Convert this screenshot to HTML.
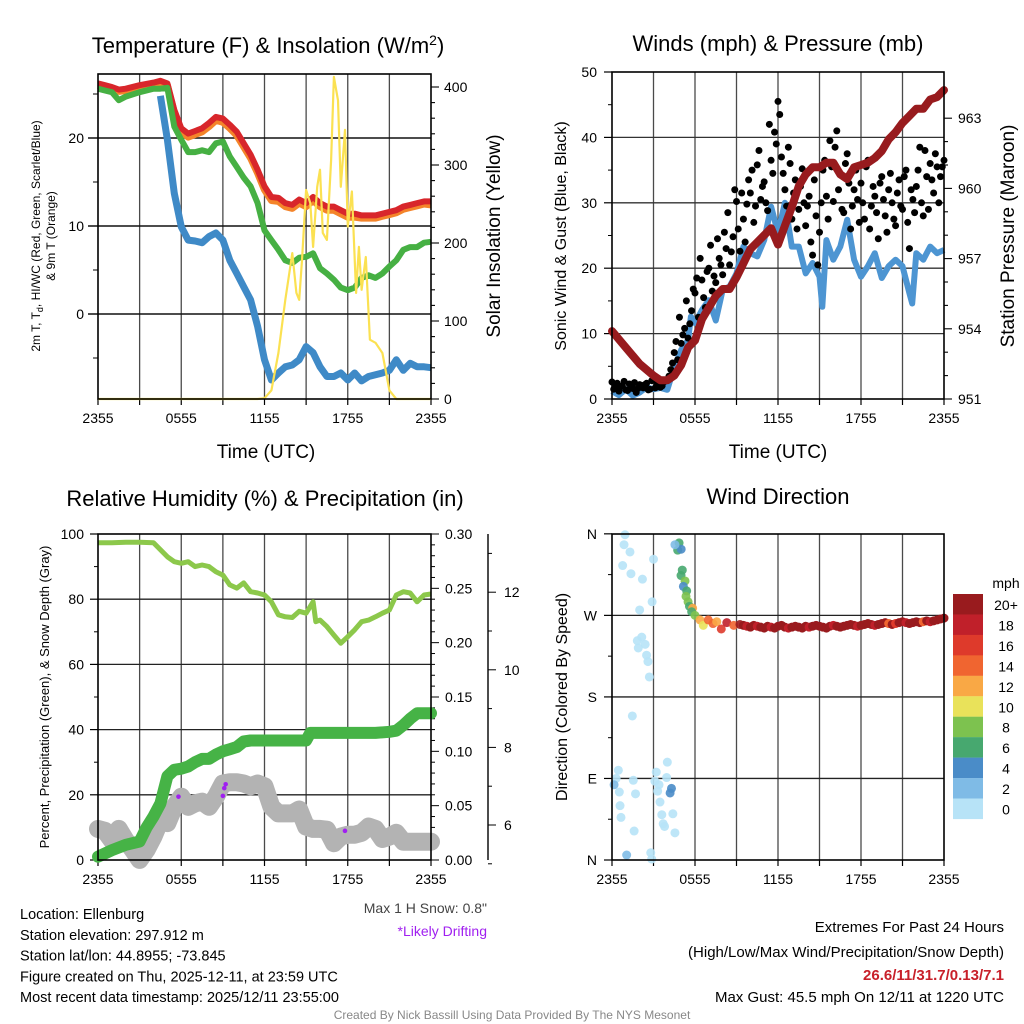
<!DOCTYPE html>
<html><head><meta charset="utf-8"><style>
html,body{margin:0;padding:0;background:#fff;}
svg{display:block;font-family:"Liberation Sans",sans-serif;}
</style></head><body>
<svg id="fig" width="1024" height="1024" viewBox="0 0 1024 1024" xmlns="http://www.w3.org/2000/svg"></svg>
<script>
// ---------- DATA ----------
const tempTimes = [0,0.5,1,1.5,2,3,4,4.5,5,5.5,6,6.5,7,7.5,8,8.5,9,9.5,10,10.5,11,11.5,12,12.5,13,13.5,14,14.5,15,15.5,16,16.5,17,17.5,18,18.5,19,19.5,20,20.5,21,21.5,22,22.5,23,23.5,24];
const tempRed = [26.2,26,25.8,25.5,25.6,26,26.3,26.5,26.2,23.2,21.1,20.5,20.8,21.1,21.7,22.4,22.2,21.5,20.7,19.4,18.1,16.4,14.5,13.3,13.2,12.6,12.4,13,12.6,13.3,12.6,12.2,12.2,11.8,11.4,11.4,11.2,11.2,11.2,11.4,11.6,11.8,12.2,12.4,12.6,12.8,12.8];
const tempOrange = [26.0,25.8,25.6,25.3,25.4,25.8,26.1,26.3,26.0,22.9,20.7,20.1,20.4,20.7,21.3,22.0,21.8,21.1,20.3,19.0,17.7,16.0,14.1,12.9,12.8,12.2,12.0,12.6,12.2,12.9,12.2,11.8,11.8,11.4,11.0,11.0,10.9,10.9,10.9,11.1,11.3,11.5,11.9,12.1,12.3,12.5,12.4];
const dewGreen = [25.6,25.4,25.2,24.3,24.7,25.2,25.6,25.6,25.7,21.3,19.8,18.4,18.4,18.6,18.4,19.4,19.6,17.9,16.7,15.5,14.5,12.6,9.5,8.4,7.3,6.1,5.8,6.4,6.5,6.9,5.2,4.6,3.9,3.0,2.7,3.0,4.1,4.4,4.1,4.6,5.4,6.1,7.3,7.6,7.6,8.1,8.2];
const wcBlue = [null,null,null,null,null,null,null,24.8,19.8,13.7,9.9,8.4,8.3,8.1,8.8,9.2,8.4,6.1,4.6,3.1,1.6,-1.4,-5.2,-7.5,-6.7,-6.0,-5.8,-5.2,-3.7,-4.4,-6.0,-7.1,-7.1,-6.7,-7.5,-6.7,-7.6,-7.1,-6.9,-6.7,-6.4,-5.2,-6.4,-5.6,-6.0,-6.0,-6.1];
const solarTimes = [0,11.5,12,12.5,13,13.5,14,14.3,14.5,14.7,15,15.3,15.5,15.8,16,16.2,16.5,16.8,17,17.3,17.5,17.8,18,18.3,18.6,18.8,19,19.3,19.6,20,20.5,21,21.5,24];
const solarVals = [0,0,1,11,59,127,187,136,127,178,268,251,195,272,294,213,204,306,413,383,272,345,221,266,136,195,140,182,76,72,59,11,0,0];
const tempTicks = [0,10,20];
const solarTicks = [0,100,200,300,400];
const timeTickLabels = ["2355","0555","1155","1755","2355"];

const presTimes = [0,1,2,3,3.5,4,4.5,5,5.5,6,6.5,7,7.5,8,8.5,9,9.5,10,10.5,11,11.5,12,12.5,13,13.5,14,14.5,15,15.5,16,16.5,17,17.5,18,18.5,19,19.5,20,20.5,21,21.5,22,22.5,23,23.5,24];
const presVals = [953.9,953.2,952.5,952.0,951.8,951.8,952.0,952.45,953.2,953.5,954.4,954.9,955.4,955.7,955.7,956.2,956.8,957.4,957.7,958.0,958.3,957.6,958.4,959.2,960.1,960.6,960.9,960.9,961.1,961.1,960.6,960.4,960.9,961.0,961.1,961.3,961.6,962.1,962.4,962.8,963.1,963.4,963.4,963.8,963.9,964.2];
const windTimes = [0,0.5,1,1.5,2,2.5,3,3.5,4,4.5,5,5.5,5.7,6,6.5,7,7.5,8,8.5,9,9.5,10,10.5,11,11.5,12,12.5,13,13.5,14,14.5,15,15.2,15.5,16,16.5,17,17.5,18,18.5,19,19.5,20,20.5,21,21.5,21.7,22,22.5,23,23.5,24];
const windVals = [1.2,0.6,1.5,0.5,1.0,1.8,1.5,1.7,1.4,4.9,7.5,9.0,12.6,11.6,13.6,15.1,12.0,16.7,17.2,19.2,23.3,22.3,21.8,24.3,29.4,25.4,30.0,23.3,23.3,19.2,20.8,18.7,14.1,24.3,21.3,23.3,27.4,21.3,18.7,20.3,22.3,18.5,20.3,21.3,20.3,16.2,14.6,22.3,21.3,23.3,22.3,22.8];
const gustVals = [2.6,1.8,1.2,2.0,1.4,2.3,1.6,1.0,2.2,1.7,2.4,1.5,2.9,2.1,1.8,2.6,
 2.9,4.5,7.1,6.0,8.5,10.8,9.3,13.5,
 16.2,12.5,18.2,14.0,20.0,16.5,17.8,21.5,
 19.0,23.0,20.5,24.8,30.2,22.6,27.5,29.8,
 31.5,27.0,35.8,30.5,33.2,28.8,36.5,40.8,
 45.5,37.0,32.0,38.5,27.5,33.5,29.0,35.2,
 26.5,31.0,22.0,28.0,25.5,35.0,31.0,39.5,
 30.2,41.0,34.5,28.5,37.5,26.0,32.0,30.5,
 33.0,27.5,36.5,29.5,31.0,24.5,34.0,28.0,
 32.0,30.0,26.5,33.5,29.0,35.0,23.0,30.5,
 32.5,38.5,28.0,34.0,36.0,31.5,35.5,34.0,36.5];
const gustVals2 = [1.5,2.4,1.9,2.7,1.3,2.0,2.5,1.6,1.9,2.2,1.4,2.8,1.7,2.3,2.0,2.9,
 3.5,5.5,8.8,12.5,9.8,15.0,11.5,16.8,
 18.5,21.5,15.5,19.5,23.5,18.8,24.5,20.5,
 25.5,28.5,22.5,32.0,26.0,31.5,24.0,33.5,
 35.0,29.5,38.0,32.5,30.0,42.0,34.5,39.0,
 43.5,34.5,29.5,36.0,31.5,26.0,32.5,30.0,
 29.5,24.0,33.5,20.5,30.0,36.5,27.5,35.5,
 38.5,32.0,29.0,36.0,33.0,29.5,35.0,27.0,
 30.0,35.5,26.0,32.5,28.5,33.0,30.5,25.5,
 34.5,27.5,31.5,29.5,34.0,27.0,32.0,28.5,
 35.0,30.0,38.0,29.0,33.5,37.5,30.0,35.5];
const windTicks = [0,10,20,30,40,50];
const presTicks = [951,954,957,960,963];

const rhTimes = [0,1,2,3,4,5,5.5,6,6.5,7,7.5,8,8.5,9,9.5,10,10.5,11,11.5,12,12.5,13,13.5,14,14.5,15,15.5,15.7,16,16.5,17,17.5,18,18.5,19,19.5,20,20.5,21,21.5,22,22.5,23,23.5,24];
const rhVals = [97.3,97.3,97.5,97.5,97.3,93,91.5,91,91.5,90,90.5,90,88.4,87.4,84.4,83.4,85,82.3,81.9,81.3,79.2,75.2,74.6,74.4,76.3,75.7,79.2,73.1,73.6,71.6,69,66.5,68.5,70.6,73.1,73.6,74.6,75.7,76.7,81.3,82.3,81.9,79.2,81.3,81.6];
const precipTimes = [0,1,2,3,3.5,4,4.5,5,5.5,6,6.5,7,7.5,8,8.5,9,9.5,10,10.5,11,15,15.3,20,21,21.5,22,22.5,23,23.5,24];
const precipVals = [0.003,0.009,0.014,0.017,0.030,0.040,0.052,0.077,0.083,0.084,0.086,0.090,0.093,0.093,0.097,0.100,0.102,0.104,0.109,0.110,0.110,0.117,0.117,0.118,0.119,0.124,0.130,0.135,0.135,0.135];
const snowTimes = [0,0.5,1,1.5,2,2.5,3,3.5,4,4.5,5,5.5,6,6.5,7,7.5,8,8.5,9,9.5,10,10.5,11,11.5,12,12.5,13,13.5,14,14.5,15,15.5,16,16.5,17,17.5,18,18.5,19,19.5,20,20.5,21,21.5,22,22.5,23,24];
const snowVals = [5.9,5.85,5.6,5.9,5.6,5.36,5.1,5.36,5.7,6.13,6.05,6.47,6.73,6.47,6.56,6.6,6.47,6.73,7.07,7.1,7.1,7.07,7.0,7.07,7.0,6.47,6.3,6.3,6.3,6.4,5.96,5.9,5.9,5.88,5.53,5.7,5.75,5.75,5.8,5.96,5.9,5.64,5.7,5.8,5.57,5.57,5.57,5.57];
const driftTimes = [5.8,9.0,9.1,9.2,17.8];
const driftVals = [6.73,6.75,6.95,7.05,5.85];
const rhTicks = [0,20,40,60,80,100];
const precipTicks = [0,0.05,0.10,0.15,0.20,0.25,0.30];
const precipTickLabels = ["0.00","0.05","0.10","0.15","0.20","0.25","0.30"];
const snowTicks = [6,8,10,12];

const dirTimes = [0.94,0.87,1.3,3.0,0.77,1.37,2.2,2.9,2.0,2.15,1.83,2.4,1.9,2.5,2.6,2.7,1.47,0.46,0.3,0.15,1.54,0.53,1.7,0.58,0.65,1.6,1.06,2.8,2.87,4.0,3.2,3.95,3.1,3.4,4.3,4.2,3.3,3.47,3.6,4.4,3.7,3.8,4.55,
 4.85,4.75,5.0,4.55,5.08,4.99,5.28,5.16,5.4,5.35,5.5,5.6,5.83,5.76,6.0,6.36,6.6,6.96,7.3,7.57,7.9,8.3,8.8,9.25];
const dirVals = [359,348,340,332,325,316,310,285,276,246,242,238,234,226,219,202,159,99,90,83,88,75,73,60,47,32,5.5,8,1,108,97,91,87,83,79,74,76,64,50,51,40,37,30,
 350,342,343,348,320,314,308,302,297,291,285,280,278,274,270,265,259,265,261,263,255,262,259,260];
const dirSpeeds = [0,0,0,0,0,0,0,0,0,0,0,0,0,0,0,0,0,0,0,2,0,0,0,0,0,0,2,0,0,0,0,0,0,0,3,3,0,0,0,0,0,0,0,
 6,6,4,1,6,6,8,4,6,8,8,6,12,6,8,12,10,14,14,12,16,18,14,20];
const dirTimes2 = [9.5,9.75,10,10.25,10.5,10.75,11,11.25,11.5,11.75,12,12.25,12.5,12.75,13,13.25,13.5,13.75,14,14.25,14.5,14.75,15,15.25,15.5,15.75,16,16.25,16.5,16.75,17,17.25,17.5,17.75,18,18.25,18.5,18.75,19,19.25,19.5,19.75,20,20.25,20.5,20.75,21,21.25,21.5,21.75,22,22.25,22.5,22.75,23,23.25,23.5,23.75,24];
const dirVals2 = [259,258,257,259,258,257,256,258,257,256,258,259,257,256,257,258,257,256,258,257,258,259,258,257,256,258,259,258,257,258,259,260,259,258,259,260,261,260,259,260,261,262,261,260,261,262,263,262,261,262,263,262,263,264,263,264,265,266,267];
const dirSpeeds2 = [20,18,20,20,18,20,20,20,18,20,20,20,20,18,20,20,20,20,20,18,20,20,20,20,20,20,18,20,20,20,20,20,20,18,20,20,20,20,18,20,20,20,14,20,16,20,20,18,20,20,20,20,14,20,18,20,20,20,20];
const cbLabels = ["20+","18","16","14","12","10","8","6","4","2","0"];
const cbColors = ["#991b1e","#c0202a","#de3a2b","#f06530","#f9a845","#e9e25a","#7dc24f","#47a86f","#4a8cc8","#7fbbe6","#b7e3f7"];
const dirTickLabels = ["N","E","S","W","N"];

// ---------- HELPERS ----------
const NS = "http://www.w3.org/2000/svg";
const svg = document.getElementById("fig");
function mk(tag, attrs, parent){
  const el = document.createElementNS(NS, tag);
  for (const k in attrs) el.setAttribute(k, attrs[k]);
  (parent||svg).appendChild(el);
  return el;
}
function txt(str, attrs, parent){
  const el = mk("text", attrs, parent);
  el.textContent = str;
  return el;
}
function pathFrom(xs, ys, fx, fy){
  let d = "", pen = false;
  for (let i=0;i<xs.length;i++){
    if (ys[i]===null){ pen=false; continue; }
    d += (pen?"L":"M") + fx(xs[i]).toFixed(1) + "," + fy(ys[i]).toFixed(1);
    pen = true;
  }
  return d;
}
function speedColor(s){
  let idx = 10 - Math.min(10, Math.round(s/2));
  return cbColors[idx];
}
function frame(p, name){
  const g = mk("g", {});
  
  
  for (let h=3; h<24; h+=3){
    const x = p.sx(h);
    const l = mk("line",{x1:x,y1:p.y0,x2:x,y2:p.y1,stroke:"#4a4a4a","stroke-width":1.3},g);
    
    
  }
  for (let h=0; h<=24; h+=3){
    const x = p.sx(h);
    mk("line",{x1:x,y1:p.y1,x2:x,y2:p.y1+6,stroke:"#000","stroke-width":1.2},g);
  }
  for (let i=0;i<timeTickLabels.length;i++){
    const t = txt(timeTickLabels[i],{x:p.sx(i*6),y:p.y1+24,"font-size":14,"text-anchor":"middle"},g);
    
    
  }
  return g;
}
function border(p){
  const r = mk("rect",{x:p.x0,y:p.y0,width:p.x1-p.x0,height:p.y1-p.y0,fill:"none",stroke:"#000","stroke-width":1.6});
  
  
}

// ---------- PANEL 1 ----------
const p1 = {x0:98,x1:431,y0:74,y1:399};
p1.sx = h => p1.x0 + h*(p1.x1-p1.x0)/24;
const yT = v => 314 - v*8.8;
const yS = v => 399 - v*0.78;
const g1 = frame(p1, "temperature-panel");
for (const v of tempTicks){
  const y = yT(v);
  mk("line",{x1:p1.x0-10,y1:y,x2:p1.x1,y2:y,stroke:"#111","stroke-width":1.4},g1);
  const t = txt(String(v),{x:84,y:y+5,"font-size":14,"text-anchor":"end"},g1);
  
  
}
for (let v=-5; v<=25; v+=10){ const y=yT(v); mk("line",{x1:p1.x0-5,y1:y,x2:p1.x0,y2:y,stroke:"#000"},g1); }
for (let v=0; v<=400; v+=20){ const y=yS(v); const big=v%100===0; mk("line",{x1:p1.x1,y1:y,x2:p1.x1+(big?8:4),y2:y,stroke:"#000","stroke-width":1.1},g1); }
for (const v of solarTicks){
  const t = txt(String(v),{x:444,y:yS(v)+5,"font-size":14},g1);
  
  
}
let e;
e = mk("path",{d:pathFrom(tempTimes,tempOrange,p1.sx,yT),fill:"none",stroke:"#f4842a","stroke-width":7,"stroke-linejoin":"round"});
 
e = mk("path",{d:pathFrom(tempTimes,tempRed,p1.sx,yT),fill:"none",stroke:"#d8262b","stroke-width":6,"stroke-linejoin":"round"});
 
e = mk("path",{d:pathFrom(tempTimes,dewGreen,p1.sx,yT),fill:"none",stroke:"#46b043","stroke-width":6,"stroke-linejoin":"round"});
 
e = mk("path",{d:pathFrom(tempTimes,wcBlue,p1.sx,yT),fill:"none",stroke:"#3f8ac7","stroke-width":7,"stroke-linejoin":"round"});
 
e = mk("path",{d:pathFrom(solarTimes,solarVals,p1.sx,yS),fill:"none",stroke:"#fbe152","stroke-width":2.2,"stroke-linejoin":"round"});
 
border(p1);
e = txt("",{x:268,y:53,"font-size":22,"text-anchor":"middle"});
e.innerHTML = 'Temperature (F) &amp; Insolation (W/m<tspan dy="-8" font-size="14">2</tspan><tspan dy="8">)</tspan>';
 
e = txt("",{transform:"translate(40,236) rotate(-90)","font-size":12,"text-anchor":"middle"});
e.innerHTML = '2m T, T<tspan dy="3" font-size="9">d</tspan><tspan dy="-3">, HI/WC (Red, Green, Scarlet/Blue)</tspan>';
 
e = txt("& 9m T (Orange)",{transform:"translate(55,236) rotate(-90)","font-size":12,"text-anchor":"middle"});
 
e = txt("Solar Insolation (Yellow)",{transform:"translate(500,236) rotate(-90)","font-size":19,"text-anchor":"middle"});
 
e = txt("Time (UTC)",{x:266,y:458,"font-size":19,"text-anchor":"middle"});
 

// ---------- PANEL 2 ----------
const p2 = {x0:612,x1:944,y0:72,y1:399};
p2.sx = h => p2.x0 + h*(p2.x1-p2.x0)/24;
const yW = v => 399 - v*6.54;
const yP = v => 399 - (v-951)*23.4;
const g2 = frame(p2, "winds-panel");
for (const v of windTicks){
  const y = yW(v);
  if (v>0 && v<50) mk("line",{x1:p2.x0,y1:y,x2:p2.x1,y2:y,stroke:"#333","stroke-width":1.3},g2);
  mk("line",{x1:p2.x0-8,y1:y,x2:p2.x0,y2:y,stroke:"#000","stroke-width":1.2},g2);
  const t = txt(String(v),{x:597,y:y+5,"font-size":14,"text-anchor":"end"},g2);
   
}
for (let v=5; v<50; v+=10){ const y=yW(v); mk("line",{x1:p2.x0-4,y1:y,x2:p2.x0,y2:y,stroke:"#000"},g2); }
for (let v=951; v<=963; v+=1){ const y=yP(v); const big=(v-951)%3===0; mk("line",{x1:p2.x1,y1:y,x2:p2.x1+(big?8:4),y2:y,stroke:"#000","stroke-width":1.1},g2); }
for (const v of presTicks){
  const t = txt(String(v),{x:958,y:yP(v)+5,"font-size":14},g2);
   
}
e = mk("path",{d:pathFrom(windTimes,windVals,p2.sx,yW),fill:"none",stroke:"#4d95d2","stroke-width":6,"stroke-linejoin":"round"});
 
const gg = mk("g",{});
 
for (let i=0;i<gustVals.length;i++){
  const c = mk("circle",{cx:p2.sx(i*0.25),cy:yW(gustVals[i]),r:3.5,fill:"#000"},gg);
   
}
for (let i=0;i<gustVals2.length;i++){
  const c = mk("circle",{cx:p2.sx(i*0.25+0.125),cy:yW(gustVals2[i]),r:3.5,fill:"#000"},gg);
   
}
e = mk("path",{d:pathFrom(presTimes,presVals,p2.sx,yP),fill:"none",stroke:"#981b1e","stroke-width":8,"stroke-linejoin":"round","stroke-linecap":"round"});
 
border(p2);
e = txt("Winds (mph) & Pressure (mb)",{x:778,y:51,"font-size":22,"text-anchor":"middle"});
 
e = txt("Sonic Wind & Gust (Blue, Black)",{transform:"translate(566,236) rotate(-90)","font-size":16,"text-anchor":"middle"});
 
e = txt("Station Pressure (Maroon)",{transform:"translate(1014,236) rotate(-90)","font-size":19,"text-anchor":"middle"});
 
e = txt("Time (UTC)",{x:778,y:458,"font-size":19,"text-anchor":"middle"});
 

// ---------- PANEL 3 ----------
const p3 = {x0:98,x1:431,y0:534,y1:860};
p3.sx = h => p3.x0 + h*(p3.x1-p3.x0)/24;
const yR = v => 860 - v*3.26;
const yPr = v => 860 - v*1086.7;
const ySn = v => 825 - (v-6)*38.8;
const g3 = frame(p3, "humidity-panel");
for (const v of rhTicks){
  const y = yR(v);
  if (v>0 && v<100) mk("line",{x1:p3.x0,y1:y,x2:p3.x1,y2:y,stroke:"#222","stroke-width":1.3},g3);
  mk("line",{x1:p3.x0-8,y1:y,x2:p3.x0,y2:y,stroke:"#000","stroke-width":1.2},g3);
  const t = txt(String(v),{x:84,y:y+5,"font-size":14,"text-anchor":"end"},g3);
   
}
for (let v=10; v<100; v+=20){ const y=yR(v); mk("line",{x1:p3.x0-4,y1:y,x2:p3.x0,y2:y,stroke:"#000"},g3); }
for (let v=0; v<=30; v+=1){ const y=yPr(v/100); const big=v%5===0; mk("line",{x1:p3.x1,y1:y,x2:p3.x1+(big?8:4),y2:y,stroke:"#000","stroke-width":1},g3); }
for (let i=0;i<precipTicks.length;i++){
  const t = txt(precipTickLabels[i],{x:445,y:yPr(precipTicks[i])+5,"font-size":14},g3);
   
}
e = mk("line",{x1:488,y1:534,x2:488,y2:860,stroke:"#000","stroke-width":1.4},g3);
 
for (let v=5; v<=13; v+=1){ const y=ySn(v); if(y<534) continue; const big=v%2===0; mk("line",{x1:488,y1:y,x2:488+(big?8:4),y2:y,stroke:"#000","stroke-width":1},g3); }
for (const v of snowTicks){
  const t = txt(String(v),{x:504,y:ySn(v)+5,"font-size":14},g3);
   
}
e = mk("path",{d:pathFrom(snowTimes,snowVals,p3.sx,ySn),fill:"none",stroke:"#b3b3b3","stroke-width":18,"stroke-linejoin":"round","stroke-linecap":"round"});
 
e = mk("path",{d:pathFrom(precipTimes,precipVals,p3.sx,yPr),fill:"none",stroke:"#46b346","stroke-width":12,"stroke-linejoin":"round","stroke-linecap":"round"});
 
e = mk("path",{d:pathFrom(rhTimes,rhVals,p3.sx,yR),fill:"none",stroke:"#8cc84b","stroke-width":5,"stroke-linejoin":"round"});
 
for (let i=0;i<driftTimes.length;i++){
  const c = mk("circle",{cx:p3.sx(driftTimes[i]),cy:ySn(driftVals[i]),r:2.3,fill:"#a020f0"});
   
}
border(p3);
e = txt("Relative Humidity (%) & Precipitation (in)",{x:265,y:506,"font-size":22,"text-anchor":"middle"});
 
e = txt("Percent, Precipitation (Green), & Snow Depth (Gray)",{transform:"translate(49,697) rotate(-90)","font-size":13,"text-anchor":"middle"});
 
e = txt("Max 1 H Snow: 0.8\"",{x:487,y:913,"font-size":14,"text-anchor":"end",fill:"#444"});
 
e = txt("*Likely Drifting",{x:487,y:936,"font-size":14,"text-anchor":"end",fill:"#a020f0"});
 

// ---------- PANEL 4 ----------
const p4 = {x0:612,x1:944,y0:534,y1:860};
p4.sx = h => p4.x0 + h*(p4.x1-p4.x0)/24;
const yD = v => 860 - v*0.906;
const g4 = frame(p4, "wind-direction-panel");
for (let i=0;i<dirTickLabels.length;i++){
  const v = i*90, y = yD(v);
  if (i>0 && i<4) mk("line",{x1:p4.x0,y1:y,x2:p4.x1,y2:y,stroke:"#222","stroke-width":1.3},g4);
  mk("line",{x1:p4.x0-8,y1:y,x2:p4.x0,y2:y,stroke:"#000","stroke-width":1.2},g4);
  const t = txt(dirTickLabels[i],{x:597,y:y+5,"font-size":14,"text-anchor":"end"},g4);
   
}
for (let v=45; v<360; v+=90){ const y=yD(v); mk("line",{x1:p4.x0-4,y1:y,x2:p4.x0,y2:y,stroke:"#000"},g4); }
const gd = mk("g",{});
 
for (let i=0;i<dirVals.length;i++){
  const c = mk("circle",{cx:p4.sx(dirTimes[i]),cy:yD(dirVals[i]),r:4.5,fill:speedColor(dirSpeeds[i]),"fill-opacity":0.9},gd);
   
}
for (let i=0;i<dirVals2.length;i++){
  const c = mk("circle",{cx:p4.sx(dirTimes2[i]),cy:yD(dirVals2[i]),r:4.5,fill:speedColor(dirSpeeds2[i])},gd);
   
}
border(p4);
e = txt("Wind Direction",{x:778,y:504,"font-size":22,"text-anchor":"middle"});
 
e = txt("Direction (Colored By Speed)",{transform:"translate(567,697) rotate(-90)","font-size":16,"text-anchor":"middle"});
 
const gc = mk("g",{});
 
for (let i=0;i<cbLabels.length;i++){
  const y = 594 + i*20.45;
  const r = mk("rect",{x:953,y:y,width:30,height:20.6,fill:cbColors[i]},gc);
   
  const t = txt(cbLabels[i],{x:1006,y:y+16,"font-size":14,"text-anchor":"middle"},gc);
   
}
e = txt("mph",{x:1006,y:588,"font-size":14,"text-anchor":"middle"},gc);
 

// ---------- FOOTER TEXT ----------
const infoLines = ["Location: Ellenburg","Station elevation: 297.912 m","Station lat/lon: 44.8955; -73.845","Figure created on Thu, 2025-12-11, at 23:59 UTC","Most recent data timestamp: 2025/12/11 23:55:00"];
for (let i=0;i<infoLines.length;i++){
  const t = txt(infoLines[i],{x:20,y:919+i*20.8,"font-size":14.5});
   
}
e = txt("Extremes For Past 24 Hours",{x:1004,y:932,"font-size":15,"text-anchor":"end"});
 
e = txt("(High/Low/Max Wind/Precipitation/Snow Depth)",{x:1004,y:957,"font-size":15,"text-anchor":"end"});
 
e = txt("26.6/11/31.7/0.13/7.1",{x:1004,y:980,"font-size":15,"font-weight":"bold","text-anchor":"end",fill:"#c8202a"});
 
e = txt("Max Gust: 45.5 mph On 12/11 at 1220 UTC",{x:1004,y:1002,"font-size":15,"text-anchor":"end"});
 
e = txt("Created By Nick Bassill Using Data Provided By The NYS Mesonet",{x:512,y:1019,"font-size":12,"text-anchor":"middle",fill:"#888"});
 
</script>
</body></html>
